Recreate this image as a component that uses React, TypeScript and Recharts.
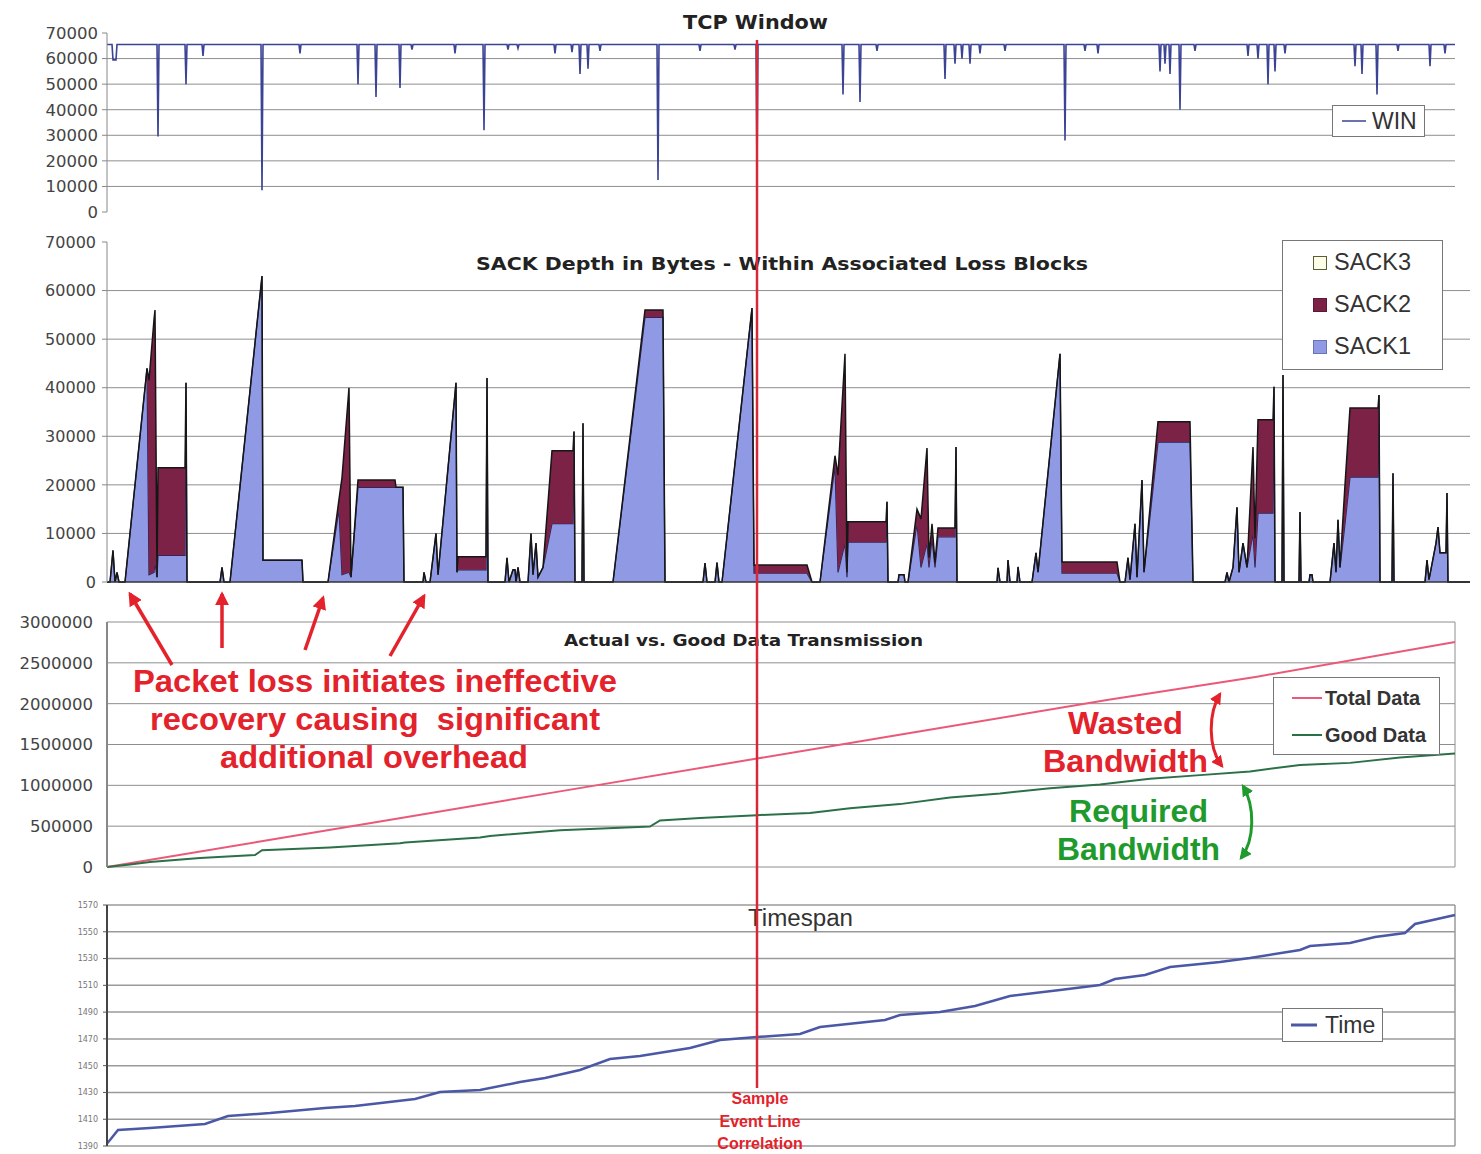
import React from 'react';
import {
  ComposedChart,
  Line,
  Area,
  XAxis,
  YAxis,
  CartesianGrid,
  ReferenceLine,
  Legend,
} from 'recharts';

const DEJAVU = '"DejaVu Sans", sans-serif';
const ARIAL = '"Liberation Sans", Arial, sans-serif';

// ---------- TCP Window ----------
const winTicks = [0, 10000, 20000, 30000, 40000, 50000, 60000, 70000];
const winSample = [
  0, 5, 6, 9, 10, 50, 51, 52, 78, 79, 80, 95, 96, 97, 154, 155, 156, 192, 193, 194,
  250, 251, 252, 268, 269, 270, 292, 293, 294, 304, 305, 306, 347, 348, 349, 376, 377, 378,
  400, 401, 402, 410, 411, 412, 447, 448, 449, 464, 465, 466, 472, 473, 474, 480, 481, 482,
  492, 493, 494, 550, 551, 552, 592, 593, 594, 627, 628, 629, 649, 650, 651, 735, 736, 737,
  752, 753, 754, 769, 770, 771, 837, 838, 839, 847, 848, 849, 854, 855, 856, 862, 863, 864,
  872, 873, 874, 897, 898, 899, 957, 958, 959, 977, 978, 979, 990, 991, 992, 1052, 1053, 1054,
  1057, 1058, 1059, 1062, 1063, 1064, 1072, 1073, 1074, 1087, 1088, 1089, 1140, 1141, 1142,
  1150, 1151, 1152, 1160, 1161, 1162, 1167, 1168, 1169, 1177, 1178, 1179, 1247, 1248, 1249,
  1254, 1255, 1256, 1269, 1270, 1271, 1290, 1291, 1292, 1322, 1323, 1324, 1337, 1338, 1339, 1348,
];
const winBytes = [
  65500, 65500, 59500, 59500, 65500, 65500, 29500, 65500, 65500, 50000, 65500, 65500, 61000, 65500,
  65500, 8500, 65500, 65500, 62000, 65500,
  65500, 50000, 65500, 65500, 45000, 65500, 65500, 48500, 65500, 65500, 63500, 65500,
  65500, 62000, 65500, 65500, 32000, 65500,
  65500, 63500, 65500, 65500, 64000, 65500, 65500, 62000, 65500, 65500, 62500, 65500,
  65500, 54000, 65500, 65500, 56000, 65500,
  65500, 63000, 65500, 65500, 12500, 65500, 65500, 63000, 65500, 65500, 63500, 65500,
  65500, 15000, 65500, 65500, 46000, 65500,
  65500, 43000, 65500, 65500, 63000, 65500, 65500, 52000, 65500, 65500, 58000, 65500,
  65500, 60000, 65500, 65500, 58000, 65500,
  65500, 62000, 65500, 65500, 63000, 65500, 65500, 28000, 65500, 65500, 63000, 65500,
  65500, 62000, 65500, 65500, 55000, 65500,
  65500, 58000, 65500, 65500, 54000, 65500, 65500, 40000, 65500, 65500, 63000, 65500,
  65500, 61000, 65500,
  65500, 60000, 65500, 65500, 50000, 65500, 65500, 55000, 65500, 65500, 62000, 65500,
  65500, 57000, 65500,
  65500, 54000, 65500, 65500, 46000, 65500, 65500, 63000, 65500, 65500, 57000, 65500,
  65500, 62000, 65500, 65500,
];

// ---------- SACK depth ----------
const sackTicks = [0, 10000, 20000, 30000, 40000, 50000, 60000, 70000];
const sackSample = [
  0, 3, 6, 8, 10, 12,
  18, 40, 42, 47, 48, 50, 51, 78, 79, 80,
  113, 115, 117,
  123, 155, 156, 195, 196,
  221, 232, 235, 242, 244, 251, 288, 289, 296, 297,
  316, 317, 319,
  323, 329, 331, 349, 350, 351, 379, 380, 381,
  398, 400, 402, 406, 408, 409, 411, 413,
  421, 424, 426, 429, 431, 436, 445, 466, 467, 468, 475, 476, 477,
  506, 538, 556, 558,
  596, 598, 600, 608, 610, 612,
  615, 645, 647, 700, 705,
  713, 728, 731, 738, 740, 741, 779, 780, 781,
  791, 792, 797, 798,
  801, 810, 814, 820, 822, 825, 828, 831, 848, 849, 850,
  890, 891, 893, 900, 901, 903, 910, 911, 913,
  925, 929, 931, 953, 955, 1010, 1013,
  1018, 1021, 1023, 1028, 1030, 1035, 1037, 1051, 1083, 1086,
  1118, 1120, 1122, 1126, 1130, 1132, 1136, 1140, 1146, 1148, 1151, 1166, 1167, 1168, 1175, 1176, 1177,
  1192, 1193, 1194, 1202, 1203, 1205, 1206,
  1223, 1227, 1229, 1231, 1233, 1238, 1243, 1271, 1272, 1273,
  1285, 1286, 1287,
  1318, 1320, 1322, 1329, 1331, 1333, 1339, 1340, 1341, 1363,
];
const sack1 = [
  0, 0, 6500, 0, 2000, 0,
  0, 44000, 1500, 2000, 4000, 1000, 5500, 5500, 41000, 0,
  0, 3000, 0,
  0, 63000, 4500, 4500, 0,
  0, 15000, 1500, 2000, 1000, 19500, 19500, 19500, 19500, 0,
  0, 2000, 0,
  0, 10000, 1500, 41000, 2000, 2500, 2500, 42000, 0,
  0, 5000, 0, 2500, 2500, 0, 3000, 0,
  0, 10000, 1500, 8000, 1000, 3000, 12000, 12000, 31000, 0, 0, 32700, 0,
  0, 54500, 54500, 0,
  0, 3900, 0, 0, 4000, 0,
  0, 56400, 1800, 1800, 0,
  0, 24000, 2000, 8000, 1000, 8200, 8200, 16500, 0,
  0, 1500, 1500, 0,
  0, 12000, 3000, 8000, 3000, 9000, 3000, 9300, 9300, 27800, 0,
  0, 2900, 0, 0, 4500, 0, 0, 3100, 0,
  0, 6000, 2000, 47000, 1800, 1800, 0,
  0, 5000, 500, 12000, 1000, 21000, 2000, 28800, 28800, 0,
  0, 2000, 0, 3000, 15400, 2000, 8000, 3000, 10000, 3000, 14200, 14200, 40200, 0, 0, 42600, 0,
  0, 14400, 0, 0, 1500, 1500, 0,
  0, 8000, 2000, 12800, 3000, 12000, 21600, 21600, 38500, 0,
  0, 22400, 0,
  0, 4500, 500, 8000, 11300, 6000, 6000, 18300, 0, 0,
];
const sack2 = [
  0, 0, 0, 0, 0, 0,
  0, 0, 40000, 52000, 52000, 0, 18000, 18000, 0, 0,
  0, 0, 0,
  0, 0, 0, 0, 0,
  0, 2000, 20000, 38000, 0, 1500, 1500, 0, 0, 0,
  0, 0, 0,
  0, 0, 0, 0, 0, 2700, 2700, 0, 0,
  0, 0, 0, 0, 0, 0, 0, 0,
  0, 0, 0, 0, 0, 0, 15000, 15000, 0, 0, 0, 0, 0,
  0, 1500, 1500, 0,
  0, 0, 0, 0, 0, 0,
  0, 0, 1700, 1700, 0,
  0, 2000, 20000, 39000, 1000, 4200, 4200, 0, 0,
  0, 0, 0, 0,
  0, 3000, 10000, 19600, 2000, 3000, 1000, 1800, 1800, 0, 0,
  0, 0, 0, 0, 0, 0, 0, 0, 0,
  0, 0, 0, 0, 2300, 2300, 0,
  0, 0, 0, 0, 0, 0, 0, 4200, 4200, 0,
  0, 0, 0, 0, 0, 0, 0, 0, 17800, 6000, 19200, 19200, 0, 0, 0, 0, 0,
  0, 0, 0, 0, 0, 0, 0,
  0, 0, 0, 0, 0, 8000, 14200, 14200, 0, 0,
  0, 0, 0,
  0, 0, 0, 0, 0, 0, 0, 0, 0, 0,
];
// no SACK3 blocks were observed in this capture
const sack3: number[] = [];

// ---------- Actual vs Good data ----------
const dataTicks = [0, 500000, 1000000, 1500000, 2000000, 2500000, 3000000];
const totalSample = [0, 150, 300, 450, 650, 800, 1000, 1150, 1348];
const totalBytes = [0, 306000, 612000, 920000, 1328000, 1635000, 2045000, 2330000, 2755000];
const goodSample = [
  0, 23, 43, 93, 148, 155, 223, 293, 298, 373, 383, 453, 543, 553, 593, 650, 703, 743, 793, 843,
  893, 943, 993, 1043, 1093, 1143, 1193, 1243, 1293, 1348,
];
const goodBytes = [
  0, 30000, 60000, 110000, 147000, 205000, 240000, 290000, 300000, 360000, 380000, 450000, 495000,
  570000, 600000, 635000, 660000, 720000, 770000, 850000, 900000, 965000, 1010000, 1080000, 1125000,
  1170000, 1250000, 1275000, 1340000, 1390000,
];

// ---------- Timespan ----------
const timeTicks = [1390, 1410, 1430, 1450, 1470, 1490, 1510, 1530, 1550, 1570];
const timeSample = [
  0, 3, 11, 43, 98, 121, 163, 218, 248, 308, 333, 373, 413, 438, 473, 503, 533, 583, 613, 650,
  693, 713, 778, 793, 833, 868, 903, 953, 993, 1008, 1038, 1063, 1113, 1143, 1193, 1203, 1243,
  1268, 1298, 1308, 1348,
];
const timeValue = [
  1392, 1394.5, 1402, 1403.4, 1406.4, 1412.4, 1414.6, 1418.4, 1419.9, 1425.1, 1430.3, 1431.8,
  1437.8, 1440.8, 1446.8, 1455, 1457.2, 1463.2, 1469.2, 1471.4, 1473.7, 1478.9, 1484.1, 1487.8,
  1490.1, 1494.6, 1502, 1506.5, 1510.3, 1514.7, 1517.7, 1523.7, 1527.4, 1530.4, 1536.4, 1539.4,
  1541.6, 1546.1, 1549.1, 1555.8, 1562.5,
];

const EVENT_SAMPLE = 650;
const SAMPLE_MAX = 1348;
const SACK_SAMPLE_MAX = 1363;

// ---------- layout constants ----------
const W = 1481;
const PLOT_LEFT = 107;
const PLOT_RIGHT = 1455;
const AXIS_W = 60;

const winRows = winSample.map((t, i) => ({ t, win: winBytes[i] }));
const sackRows = sackSample.map((t, i) => ({ t, s1: sack1[i], s2: sack2[i], s3: sack3[i] }));
const totalRows = totalSample.map((t, i) => ({ t, total: totalBytes[i] }));
const goodRows = goodSample.map((t, i) => ({ t, good: goodBytes[i] }));
const timeRows = timeSample.map((t, i) => ({ t, time: timeValue[i] }));

const RED = '#e3222b';
const GREEN = '#1f9a2c';
const GRID = '#8e8e8e';

const boxStyle: React.CSSProperties = {
  border: '1px solid #777',
  background: '#fff',
  boxSizing: 'border-box',
  width: '100%',
  height: '100%',
  fontFamily: ARIAL,
  color: '#333',
};

const LineLegend = ({ items, fontSize, bold, rowGap, swatchW, swatchStroke, padLeft, textGap }: any) => (
  <div style={{ ...boxStyle, display: 'flex', flexDirection: 'column', justifyContent: 'center', paddingLeft: padLeft, gap: rowGap }}>
    {items.map((it: any) => (
      <div key={it.label} style={{ display: 'flex', alignItems: 'center', height: fontSize + 4 }}>
        <svg width={swatchW} height={10} style={{ marginRight: textGap }}>
          <line x1={0} y1={5} x2={swatchW} y2={5} stroke={it.color} strokeWidth={swatchStroke} />
        </svg>
        <span style={{ fontSize, fontWeight: bold ? 700 : 400, lineHeight: 1 }}>{it.label}</span>
      </div>
    ))}
  </div>
);

const SackLegend = () => {
  const items = [
    { label: 'SACK3', fill: '#fdfde8', border: '#5c5c36' },
    { label: 'SACK2', fill: '#7b2246', border: '#5a1a33' },
    { label: 'SACK1', fill: '#8f99e4', border: '#6a72b8' },
  ];
  return (
    <div style={{ ...boxStyle, display: 'flex', flexDirection: 'column', justifyContent: 'center', paddingLeft: 30, gap: 18 }}>
      {items.map((it) => (
        <div key={it.label} style={{ display: 'flex', alignItems: 'center', height: 24 }}>
          <div style={{ width: 14, height: 14, background: it.fill, border: `1.5px solid ${it.border}`, boxSizing: 'border-box', marginRight: 7 }} />
          <span style={{ fontSize: 23.5, lineHeight: 1 }}>{it.label}</span>
        </div>
      ))}
    </div>
  );
};

const yTick = (size: number, fill = '#444') => ({ fontSize: size, fill, fontFamily: DEJAVU });

export default function App() {
  const eventX = PLOT_LEFT + (EVENT_SAMPLE / SAMPLE_MAX) * (PLOT_RIGHT - PLOT_LEFT);
  return (
    <div style={{ position: 'absolute', left: 0, top: 0, width: W, height: 1154, background: '#fff', overflow: 'hidden' }}>
      {/* Panel 1: TCP Window */}
      <div style={{ position: 'absolute', left: 0, top: 0 }}>
        <ComposedChart width={W} height={226} data={winRows} margin={{ top: 33, right: W - PLOT_RIGHT, bottom: 14, left: PLOT_LEFT - AXIS_W }}>
          <CartesianGrid vertical={false} horizontalValues={[10000, 20000, 30000, 40000, 50000, 60000]} stroke={GRID} />
          <XAxis type="number" dataKey="t" domain={[0, SAMPLE_MAX]} hide />
          <YAxis type="number" domain={[0, 70000]} ticks={winTicks} interval={0} width={AXIS_W} tick={yTick(16.5)} tickSize={5} tickMargin={4} axisLine={{ stroke: '#888' }} tickLine={{ stroke: '#888' }} />
          <Line type="linear" dataKey="win" name="WIN" stroke="#3b4395" strokeWidth={1.6} dot={false} isAnimationActive={false} />
          <Legend layout="vertical" align="center" verticalAlign="middle" wrapperStyle={{ left: 1332, top: 105, width: 93, height: 32 }}
            content={() => <LineLegend items={[{ label: 'WIN', color: '#3b4395' }]} fontSize={23} rowGap={0} swatchW={24} swatchStroke={1.5} padLeft={9} textGap={6} />} />
        </ComposedChart>
      </div>

      {/* Panel 2: SACK depth */}
      <div style={{ position: 'absolute', left: 0, top: 230 }}>
        <ComposedChart width={W} height={368} data={sackRows} margin={{ top: 12, right: 11, bottom: 16, left: PLOT_LEFT - AXIS_W }}>
          <CartesianGrid vertical={false} horizontalValues={[10000, 20000, 30000, 40000, 50000, 60000]} stroke={GRID} />
          <XAxis type="number" dataKey="t" domain={[0, SACK_SAMPLE_MAX]} hide />
          <YAxis type="number" domain={[0, 70000]} ticks={sackTicks} interval={0} width={AXIS_W} tick={yTick(16)} tickSize={5} tickMargin={6} axisLine={{ stroke: '#888' }} tickLine={{ stroke: '#888' }} />
          <Area type="linear" dataKey="s1" name="SACK1" stackId="s" fill="#8f99e4" fillOpacity={1} stroke="#1d2660" strokeWidth={1.2} isAnimationActive={false} />
          <Area type="linear" dataKey="s2" name="SACK2" stackId="s" fill="#7b2246" fillOpacity={1} stroke="#161616" strokeWidth={1.5} isAnimationActive={false} />
          <Area type="linear" dataKey="s3" name="SACK3" stackId="s" fill="#fdfde8" fillOpacity={1} stroke="#161616" strokeWidth={1} isAnimationActive={false} />
          <ReferenceLine y={0} stroke="#333" strokeWidth={1.5} />
          <Legend layout="vertical" align="center" verticalAlign="middle" wrapperStyle={{ left: 1282, top: 10, width: 161, height: 130 }} content={() => <SackLegend />} />
        </ComposedChart>
      </div>

      {/* Panel 3: Actual vs Good data */}
      <div style={{ position: 'absolute', left: 0, top: 600 }}>
        <ComposedChart width={W} height={280} margin={{ top: 22, right: W - PLOT_RIGHT, bottom: 13, left: PLOT_LEFT - AXIS_W - 6 }}>
          <CartesianGrid vertical={false} stroke={GRID} />
          <XAxis type="number" dataKey="t" domain={[0, SAMPLE_MAX]} hide allowDuplicatedCategory={false} />
          <YAxis type="number" domain={[0, 3000000]} ticks={dataTicks} interval={0} width={AXIS_W + 6} tick={yTick(16.5)} tickSize={0} tickMargin={14} axisLine={{ stroke: '#888', strokeWidth: 2 }} />
          <ReferenceLine x={SAMPLE_MAX} stroke={GRID} />
          <Line data={totalRows} type="linear" dataKey="total" name="Total Data" stroke="#ea5a78" strokeWidth={2} dot={false} isAnimationActive={false} />
          <Line data={goodRows} type="linear" dataKey="good" name="Good Data" stroke="#2c7048" strokeWidth={2} dot={false} isAnimationActive={false} />
          <Legend layout="vertical" align="center" verticalAlign="middle" wrapperStyle={{ left: 1273, top: 77, width: 167, height: 78 }}
            content={() => (
              <LineLegend items={[{ label: 'Total Data', color: '#ea5a78' }, { label: 'Good Data', color: '#2c7048' }]} fontSize={20} bold rowGap={13} swatchW={30} swatchStroke={2} padLeft={18} textGap={3} />
            )} />
        </ComposedChart>
      </div>

      {/* Panel 4: Timespan */}
      <div style={{ position: 'absolute', left: 0, top: 885 }}>
        <ComposedChart width={W} height={268} data={timeRows} margin={{ top: 20, right: W - PLOT_RIGHT, bottom: 7, left: PLOT_LEFT - AXIS_W }}>
          <CartesianGrid vertical={false} stroke="#9a9a9a" strokeWidth={1.5} />
          <XAxis type="number" dataKey="t" domain={[0, SAMPLE_MAX]} hide />
          <YAxis type="number" domain={[1390, 1570]} ticks={timeTicks} interval={0} width={AXIS_W} tick={yTick(8, '#777')} tickSize={4} tickMargin={5} axisLine={{ stroke: '#444', strokeWidth: 2 }} tickLine={{ stroke: '#555' }} />
          <ReferenceLine x={SAMPLE_MAX} stroke="#9a9a9a" strokeWidth={1.5} />
          <Line type="linear" dataKey="time" name="Time" stroke="#4b58a6" strokeWidth={2.5} dot={false} isAnimationActive={false} />
          <Legend layout="vertical" align="center" verticalAlign="middle" wrapperStyle={{ left: 1282, top: 123, width: 101, height: 34 }}
            content={() => <LineLegend items={[{ label: 'Time', color: '#4b58a6' }]} fontSize={23} rowGap={0} swatchW={26} swatchStroke={3} padLeft={8} textGap={8} />} />
        </ComposedChart>
      </div>

      {/* Titles & annotations */}
      <svg width={W} height={1154} style={{ position: 'absolute', left: 0, top: 0, pointerEvents: 'none' }}>
        <defs>
          <marker id="ahR" viewBox="0 0 10 10" refX="8" refY="5" markerWidth="4" markerHeight="4" orient="auto-start-reverse">
            <path d="M0,0 L10,5 L0,10 z" fill={RED} />
          </marker>
          <marker id="ahG" viewBox="0 0 10 10" refX="8" refY="5" markerWidth="4" markerHeight="4" orient="auto-start-reverse">
            <path d="M0,0 L10,5 L0,10 z" fill={GREEN} />
          </marker>
        </defs>
        <text x={683} y={29} fontFamily={DEJAVU} fontWeight={700} fontSize={19} fill="#222" textLength={145} lengthAdjust="spacingAndGlyphs">TCP Window</text>
        <text x={476} y={270} fontFamily={DEJAVU} fontWeight={700} fontSize={17} fill="#222" textLength={612} lengthAdjust="spacingAndGlyphs">SACK Depth in Bytes - Within Associated Loss Blocks</text>
        <text x={564} y={646} fontFamily={DEJAVU} fontWeight={700} fontSize={16} fill="#222" textLength={359} lengthAdjust="spacingAndGlyphs">Actual vs. Good Data Transmission</text>
        <text x={748} y={926} fontFamily={ARIAL} fontSize={23} fill="#333" textLength={105} lengthAdjust="spacingAndGlyphs">Timespan</text>

        <line x1={eventX} y1={40} x2={eventX} y2={1088} stroke="#d7283a" strokeWidth={2.5} />
        <g fontFamily={ARIAL} fontWeight={700} fontSize={16} fill={RED} textAnchor="middle">
          <text x={760} y={1104}>Sample</text>
          <text x={760} y={1127}>Event Line</text>
          <text x={760} y={1149}>Correlation</text>
        </g>

        <g stroke={RED} strokeWidth={3.5} fill="none" markerEnd="url(#ahR)">
          <line x1={172} y1={665} x2={130} y2={594} />
          <line x1={222} y1={648} x2={222} y2={594} />
          <line x1={305} y1={650} x2={323} y2={598} />
          <line x1={390} y1={656} x2={424} y2={596} />
        </g>
        <g fontFamily={ARIAL} fontWeight={700} fontSize={32} fill={RED}>
          <text x={133} y={692} textLength={484} lengthAdjust="spacingAndGlyphs">Packet loss initiates ineffective</text>
          <text x={150} y={730} textLength={450} lengthAdjust="spacingAndGlyphs" style={{ whiteSpace: 'pre' }}>recovery causing  significant</text>
          <text x={220} y={768} textLength={308} lengthAdjust="spacingAndGlyphs">additional overhead</text>
          <text x={1068} y={734} textLength={115} lengthAdjust="spacingAndGlyphs">Wasted</text>
          <text x={1043} y={772} textLength={165} lengthAdjust="spacingAndGlyphs">Bandwidth</text>
        </g>
        <g fontFamily={ARIAL} fontWeight={700} fontSize={32} fill={GREEN}>
          <text x={1069} y={822} textLength={139} lengthAdjust="spacingAndGlyphs">Required</text>
          <text x={1057} y={860} textLength={163} lengthAdjust="spacingAndGlyphs">Bandwidth</text>
        </g>
        <path d="M1220,694 C1208,714 1208,748 1222,766" stroke={RED} strokeWidth={3} fill="none" markerStart="url(#ahR)" markerEnd="url(#ahR)" />
        <path d="M1243,786 C1255,806 1255,840 1241,858" stroke={GREEN} strokeWidth={3} fill="none" markerStart="url(#ahG)" markerEnd="url(#ahG)" />
      </svg>
    </div>
  );
}
